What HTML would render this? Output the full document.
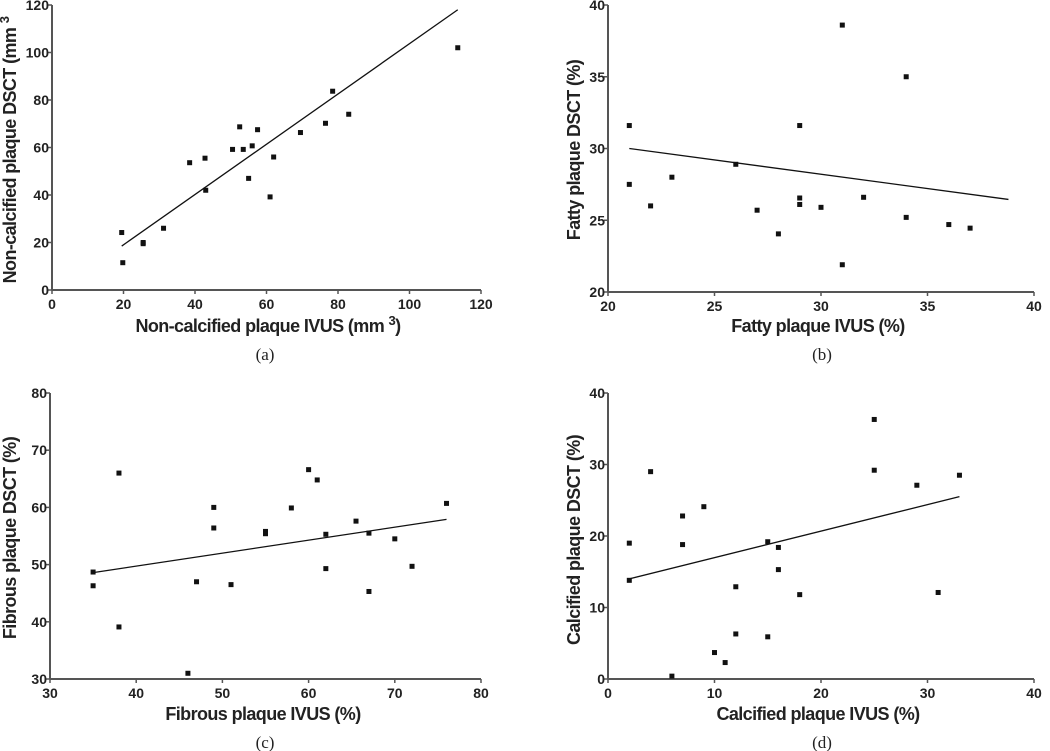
<!DOCTYPE html>
<html><head><meta charset="utf-8"><style>
html,body{margin:0;padding:0;background:#fff}
svg{display:block}
text{font-family:"Liberation Sans",Arial,sans-serif}
.tick{font-size:14px;font-weight:bold;fill:#222}
.ttl{font-size:18px;font-weight:bold;fill:#222;letter-spacing:-0.6px}
.cap{font-family:"Liberation Serif",serif;font-size:17px;fill:#222}
</style></head><body>
<svg id="fig" width="1050" height="751" viewBox="0 0 1050 751"></svg>
<script>
const aX=[19.5,19.8,25.5,25.5,31.2,38.5,42.8,43,50.5,52.5,53.5,55,56,57.5,61,62,69.5,76.5,78.5,83,113.5];
const aY=[24.2,11.5,19.5,20,26,53.6,55.5,42,59.2,68.7,59.2,47,60.7,67.5,39.2,56,66.3,70.2,83.7,74,102];
const aFit=[19.5,18.5,113.5,118];
const bX=[21,21,22,23,26,27,28,29,29,29,30,31,31,32,34,34,36,37];
const bY=[31.6,27.5,26,28,28.9,25.7,24.05,31.6,26.55,26.1,25.9,38.6,21.9,26.6,35,25.2,24.7,24.45];
const bFit=[21,30,38.8,26.45];
const cX=[35,35,38,38,46,47,49,49,51,55,55,58,60,61,62,62,65.5,67,67,70,72,76];
const cY=[48.7,46.3,66,39.1,31,47,60,56.4,46.5,55.8,55.4,59.9,66.6,64.8,55.3,49.3,57.6,55.5,45.3,54.5,49.7,60.7];
const cFit=[35,48.6,76,57.9];
const dX=[2,2,4,6,7,7,9,10,11,12,12,15,15,16,16,18,25,25,29,31,33];
const dY=[19,13.8,29,0.4,22.8,18.8,24.1,3.7,2.3,12.9,6.3,19.2,5.9,18.4,15.3,11.8,36.3,29.2,27.1,12.1,28.5];
const dFit=[2,14,33,25.5];
const aXT=[0,20,40,60,80,100,120], aYT=[0,20,40,60,80,100,120];
const bXT=[20,25,30,35,40], bYT=[20,25,30,35,40];
const cXT=[30,40,50,60,70,80], cYT=[30,40,50,60,70,80];
const dXT=[0,10,20,30,40], dYT=[0,10,20,30,40];

const svg=document.getElementById('fig');
const NS='http://www.w3.org/2000/svg';
function el(t,a,p){const e=document.createElementNS(NS,t);for(const k in a)e.setAttribute(k,a[k]);(p||svg).appendChild(e);return e;}

function panel(id,X,Y,fit,xt,yt,px0,px1,py0,py1,xTitle,yTitle,ytx,yty,xtx,xty,cap,capx,capy,supX){
  const g=el('g',{});
  
  
  const xmin=xt[0],xmax=xt[xt.length-1],ymin=yt[0],ymax=yt[yt.length-1];
  const sx=v=>px0+(v-xmin)/(xmax-xmin)*(px1-px0);
  const sy=v=>py0-(v-ymin)/(ymax-ymin)*(py0-py1);
  const xa=el('line',{x1:px0,y1:py0,x2:px1,y2:py0,stroke:'#555','stroke-width':2},g);
  
  
  const ya=el('line',{x1:px0,y1:py0,x2:px0,y2:py1,stroke:'#555','stroke-width':2},g);
  
  
  xt.forEach(v=>{
    el('line',{x1:sx(v),y1:py0,x2:sx(v),y2:py0+4,stroke:'#555','stroke-width':1.5},g);
    const t=el('text',{x:sx(v),y:py0+19,'text-anchor':'middle',class:'tick'},g);t.textContent=v;
    
    
  });
  yt.forEach(v=>{
    el('line',{x1:px0-4,y1:sy(v),x2:px0,y2:sy(v),stroke:'#555','stroke-width':1.5},g);
    const t=el('text',{x:px0-3,y:sy(v)+5,'text-anchor':'end',class:'tick'},g);t.textContent=v;
    
    
  });
  const fl=el('line',{x1:sx(fit[0]),y1:sy(fit[1]),x2:sx(fit[2]),y2:sy(fit[3]),stroke:'#111','stroke-width':1.3},g);
  
  
  X.forEach((x,i)=>{
    const r=el('rect',{x:sx(x)-2.5,y:sy(Y[i])-2.5,width:5,height:5,fill:'#111'},g);
    
    
  });
  const xtl=el('text',{x:xtx,y:xty,'text-anchor':'middle',class:'ttl'},g);
  
  
  if(supX){xtl.innerHTML=xTitle+' (mm <tspan dy="-7" font-size="13">3</tspan><tspan dy="7">)</tspan>';}
  else xtl.textContent=xTitle;
  const ytl=el('text',{x:0,y:0,'text-anchor':'middle',class:'ttl',transform:`translate(${ytx},${yty}) rotate(-90)`},g);
  
  
  if(supX){ytl.innerHTML=yTitle+' (mm <tspan dy="-7" font-size="13">3</tspan>';}
  else ytl.textContent=yTitle;
  const c=el('text',{x:capx,y:capy,'text-anchor':'middle',class:'cap'},g);c.textContent=cap;
  
  
}
panel('a',aX,aY,aFit,aXT,aYT,52,481,290,5,'Non-calcified plaque IVUS','Non-calcified plaque DSCT',16,150,268,332,'(a)',265,360,true);
panel('b',bX,bY,bFit,bXT,bYT,608,1034,292,5,'Fatty plaque IVUS (%)','Fatty plaque DSCT (%)',580,150,818,332,'(b)',822,360,false);
panel('c',cX,cY,cFit,cXT,cYT,50,481,679,393,'Fibrous plaque IVUS (%)','Fibrous plaque DSCT (%)',16,538,263,720,'(c)',265,748,false);
panel('d',dX,dY,dFit,dXT,dYT,608,1034,679,393,'Calcified plaque IVUS (%)','Calcified plaque DSCT (%)',580,540,818,720,'(d)',822,748,false);
</script>
</body></html>
